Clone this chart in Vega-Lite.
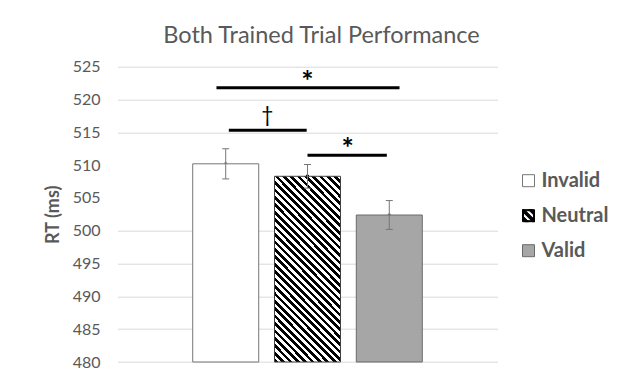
{
  "$schema": "https://vega.github.io/schema/vega-lite/v6.json",
  "width": 380,
  "height": 295.3,
  "autosize": "none",
  "padding": {"left": 117.5, "top": 66.7, "right": 131.5, "bottom": 22},
  "background": "#ffffff",
  "title": {"text": "Both Trained Trial Performance", "font": "Lato", "fontSize": 23.5, "fontWeight": "normal", "color": "#595959", "anchor": "middle", "frame": "group", "dx": 14, "offset": -8, "baseline": "alphabetic"},
  "datasets": {
    "bars": [
      {"condition": "Invalid", "pos": 1, "rt": 510.2, "lo": 507.9, "hi": 512.5},
      {"condition": "Neutral", "pos": 2, "rt": 508.3, "lo": 506.5, "hi": 510.1},
      {"condition": "Valid", "pos": 3, "rt": 502.4, "lo": 500.2, "hi": 504.6}
    ],
    "sig": [
      {"from": 0.887, "to": 3.125, "mid": 2.0, "y": 521.8, "label": "*"},
      {"from": 1.038, "to": 1.99, "mid": 1.51, "y": 515.3, "label": "†"},
      {"from": 2.0, "to": 2.97, "mid": 2.49, "y": 511.5, "label": "*"}
    ]
  },
  "layer": [
    {
      "data": {"name": "bars"},
      "mark": {"type": "point", "filled": true, "size": 4, "strokeWidth": 1, "opacity": 1},
      "encoding": {
        "x": {"field": "pos", "type": "quantitative", "scale": {"domain": [-0.262, 4.262], "nice": false, "zero": false}, "axis": null},
        "y": {"field": "rt", "type": "quantitative", "scale": {"domain": [480, 525], "nice": false, "zero": false},
          "axis": {"values": [480, 485, 490, 495, 500, 505, 510, 515, 520, 525], "title": "RT (ms)", "domain": false, "ticks": false,
            "labelFont": "Lato", "labelFontSize": 16, "labelColor": "#595959", "labelPadding": 17.5,
            "gridColor": {"condition": {"test": "datum.value === 505 || datum.value === 510", "value": "transparent"}, "value": "#d9d9d9"},
            "gridWidth": 1, "titleFont": "Lato", "titleFontSize": 18, "titleFontWeight": "bold", "titleColor": "#595959",
            "titleX": -64, "titleY": 147.6, "titleAngle": -90, "titleAlign": "center", "titleBaseline": "middle"}},
        "fill": {"field": "condition", "type": "nominal",
          "scale": {"domain": ["Invalid", "Neutral", "Valid"], "range": ["#ffffff", "#000000", "#a6a6a6"]},
          "legend": {"orient": "none", "legendX": 401, "legendY": 104, "title": null, "symbolSize": 144, "symbolOpacity": 1,
            "symbolStrokeWidth": 1, "labelFont": "Lato", "labelFontSize": 20, "labelFontWeight": "bold",
            "labelColor": "#595959", "labelOffset": 3, "rowPadding": 15, "padding": 0}},
        "stroke": {"field": "condition", "type": "nominal",
          "scale": {"domain": ["Invalid", "Neutral", "Valid"], "range": ["#767676", "#000000", "#6a6a6a"]},
          "legend": {"orient": "none", "legendX": 401, "legendY": 104, "title": null, "symbolSize": 144, "symbolOpacity": 1,
            "symbolStrokeWidth": 1, "labelFont": "Lato", "labelFontSize": 20, "labelFontWeight": "bold",
            "labelColor": "#595959", "labelOffset": 3, "rowPadding": 15, "padding": 0}},
        "shape": {"field": "condition", "type": "nominal",
          "scale": {"domain": ["Invalid", "Neutral", "Valid"], "range": ["square", "M-1,-1H1V1H-1Z M-0.83,-0.83V0.83H0.83V-0.83Z M-1,-1L-0.67,-1L1,0.67L1,1L0.67,1L-1,-0.67Z M-0.01,-1L0.65,-1L1,-0.65L1,0.01Z M-1,-0.01L0.01,1L-0.65,1L-1,0.65Z", "square"]},
          "legend": {"orient": "none", "legendX": 401, "legendY": 104, "title": null, "symbolSize": 144, "symbolOpacity": 1,
            "symbolStrokeWidth": 1, "labelFont": "Lato", "labelFontSize": 20, "labelFontWeight": "bold",
            "labelColor": "#595959", "labelOffset": 3, "rowPadding": 15, "padding": 0}}
      }
    },
    {
      "data": {"name": "bars"},
      "transform": [{"filter": "datum.condition === 'Invalid'"}],
      "mark": {"type": "bar", "width": 66, "fill": "#ffffff", "stroke": "#767676", "strokeWidth": 1},
      "encoding": {
        "x": {"field": "pos", "type": "quantitative", "scale": {"domain": [-0.262, 4.262], "nice": false, "zero": false}, "axis": null},
        "y": {"field": "rt", "type": "quantitative", "scale": {"domain": [480, 525], "nice": false, "zero": false},
          "axis": {"values": [480, 485, 490, 495, 500, 505, 510, 515, 520, 525], "title": "RT (ms)", "domain": false, "ticks": false,
            "labelFont": "Lato", "labelFontSize": 16, "labelColor": "#595959", "labelPadding": 17.5,
            "gridColor": {"condition": {"test": "datum.value === 505 || datum.value === 510", "value": "transparent"}, "value": "#d9d9d9"},
            "gridWidth": 1, "titleFont": "Lato", "titleFontSize": 18, "titleFontWeight": "bold", "titleColor": "#595959",
            "titleX": -64, "titleY": 147.6, "titleAngle": -90, "titleAlign": "center", "titleBaseline": "middle"}},
        "y2": {"datum": 480}
      }
    },
    {
      "data": {"name": "bars"},
      "transform": [{"filter": "datum.condition === 'Valid'"}],
      "mark": {"type": "bar", "width": 66, "fill": "#a6a6a6", "stroke": "#6a6a6a", "strokeWidth": 1},
      "encoding": {
        "x": {"field": "pos", "type": "quantitative", "scale": {"domain": [-0.262, 4.262], "nice": false, "zero": false}, "axis": null},
        "y": {"field": "rt", "type": "quantitative", "scale": {"domain": [480, 525], "nice": false, "zero": false},
          "axis": {"values": [480, 485, 490, 495, 500, 505, 510, 515, 520, 525], "title": "RT (ms)", "domain": false, "ticks": false,
            "labelFont": "Lato", "labelFontSize": 16, "labelColor": "#595959", "labelPadding": 17.5,
            "gridColor": {"condition": {"test": "datum.value === 505 || datum.value === 510", "value": "transparent"}, "value": "#d9d9d9"},
            "gridWidth": 1, "titleFont": "Lato", "titleFontSize": 18, "titleFontWeight": "bold", "titleColor": "#595959",
            "titleX": -64, "titleY": 147.6, "titleAngle": -90, "titleAlign": "center", "titleBaseline": "middle"}},
        "y2": {"datum": 480}
      }
    },
    {
      "data": {"name": "bars"},
      "transform": [{"filter": "datum.condition === 'Neutral'"}],
      "mark": {"type": "bar", "width": 66, "stroke": "#404040", "strokeWidth": 1,
        "fill": {"gradient": "linear", "x1": 0, "y1": 1, "x2": 0.432, "y2": -0.204, "stops": [
          {"offset": 0, "color": "#000000"}, {"offset": 0.01471, "color": "#000000"}, {"offset": 0.01471, "color": "#ffffff"}, {"offset": 0.02941, "color": "#ffffff"},
          {"offset": 0.02941, "color": "#000000"}, {"offset": 0.04412, "color": "#000000"}, {"offset": 0.04412, "color": "#ffffff"}, {"offset": 0.05882, "color": "#ffffff"},
          {"offset": 0.05882, "color": "#000000"}, {"offset": 0.07353, "color": "#000000"}, {"offset": 0.07353, "color": "#ffffff"}, {"offset": 0.08824, "color": "#ffffff"},
          {"offset": 0.08824, "color": "#000000"}, {"offset": 0.10294, "color": "#000000"}, {"offset": 0.10294, "color": "#ffffff"}, {"offset": 0.11765, "color": "#ffffff"},
          {"offset": 0.11765, "color": "#000000"}, {"offset": 0.13235, "color": "#000000"}, {"offset": 0.13235, "color": "#ffffff"}, {"offset": 0.14706, "color": "#ffffff"},
          {"offset": 0.14706, "color": "#000000"}, {"offset": 0.16176, "color": "#000000"}, {"offset": 0.16176, "color": "#ffffff"}, {"offset": 0.17647, "color": "#ffffff"},
          {"offset": 0.17647, "color": "#000000"}, {"offset": 0.19118, "color": "#000000"}, {"offset": 0.19118, "color": "#ffffff"}, {"offset": 0.20588, "color": "#ffffff"},
          {"offset": 0.20588, "color": "#000000"}, {"offset": 0.22059, "color": "#000000"}, {"offset": 0.22059, "color": "#ffffff"}, {"offset": 0.23529, "color": "#ffffff"},
          {"offset": 0.23529, "color": "#000000"}, {"offset": 0.25, "color": "#000000"}, {"offset": 0.25, "color": "#ffffff"}, {"offset": 0.26471, "color": "#ffffff"},
          {"offset": 0.26471, "color": "#000000"}, {"offset": 0.27941, "color": "#000000"}, {"offset": 0.27941, "color": "#ffffff"}, {"offset": 0.29412, "color": "#ffffff"},
          {"offset": 0.29412, "color": "#000000"}, {"offset": 0.30882, "color": "#000000"}, {"offset": 0.30882, "color": "#ffffff"}, {"offset": 0.32353, "color": "#ffffff"},
          {"offset": 0.32353, "color": "#000000"}, {"offset": 0.33824, "color": "#000000"}, {"offset": 0.33824, "color": "#ffffff"}, {"offset": 0.35294, "color": "#ffffff"},
          {"offset": 0.35294, "color": "#000000"}, {"offset": 0.36765, "color": "#000000"}, {"offset": 0.36765, "color": "#ffffff"}, {"offset": 0.38235, "color": "#ffffff"},
          {"offset": 0.38235, "color": "#000000"}, {"offset": 0.39706, "color": "#000000"}, {"offset": 0.39706, "color": "#ffffff"}, {"offset": 0.41176, "color": "#ffffff"},
          {"offset": 0.41176, "color": "#000000"}, {"offset": 0.42647, "color": "#000000"}, {"offset": 0.42647, "color": "#ffffff"}, {"offset": 0.44118, "color": "#ffffff"},
          {"offset": 0.44118, "color": "#000000"}, {"offset": 0.45588, "color": "#000000"}, {"offset": 0.45588, "color": "#ffffff"}, {"offset": 0.47059, "color": "#ffffff"},
          {"offset": 0.47059, "color": "#000000"}, {"offset": 0.48529, "color": "#000000"}, {"offset": 0.48529, "color": "#ffffff"}, {"offset": 0.5, "color": "#ffffff"},
          {"offset": 0.5, "color": "#000000"}, {"offset": 0.51471, "color": "#000000"}, {"offset": 0.51471, "color": "#ffffff"}, {"offset": 0.52941, "color": "#ffffff"},
          {"offset": 0.52941, "color": "#000000"}, {"offset": 0.54412, "color": "#000000"}, {"offset": 0.54412, "color": "#ffffff"}, {"offset": 0.55882, "color": "#ffffff"},
          {"offset": 0.55882, "color": "#000000"}, {"offset": 0.57353, "color": "#000000"}, {"offset": 0.57353, "color": "#ffffff"}, {"offset": 0.58824, "color": "#ffffff"},
          {"offset": 0.58824, "color": "#000000"}, {"offset": 0.60294, "color": "#000000"}, {"offset": 0.60294, "color": "#ffffff"}, {"offset": 0.61765, "color": "#ffffff"},
          {"offset": 0.61765, "color": "#000000"}, {"offset": 0.63235, "color": "#000000"}, {"offset": 0.63235, "color": "#ffffff"}, {"offset": 0.64706, "color": "#ffffff"},
          {"offset": 0.64706, "color": "#000000"}, {"offset": 0.66176, "color": "#000000"}, {"offset": 0.66176, "color": "#ffffff"}, {"offset": 0.67647, "color": "#ffffff"},
          {"offset": 0.67647, "color": "#000000"}, {"offset": 0.69118, "color": "#000000"}, {"offset": 0.69118, "color": "#ffffff"}, {"offset": 0.70588, "color": "#ffffff"},
          {"offset": 0.70588, "color": "#000000"}, {"offset": 0.72059, "color": "#000000"}, {"offset": 0.72059, "color": "#ffffff"}, {"offset": 0.73529, "color": "#ffffff"},
          {"offset": 0.73529, "color": "#000000"}, {"offset": 0.75, "color": "#000000"}, {"offset": 0.75, "color": "#ffffff"}, {"offset": 0.76471, "color": "#ffffff"},
          {"offset": 0.76471, "color": "#000000"}, {"offset": 0.77941, "color": "#000000"}, {"offset": 0.77941, "color": "#ffffff"}, {"offset": 0.79412, "color": "#ffffff"},
          {"offset": 0.79412, "color": "#000000"}, {"offset": 0.80882, "color": "#000000"}, {"offset": 0.80882, "color": "#ffffff"}, {"offset": 0.82353, "color": "#ffffff"},
          {"offset": 0.82353, "color": "#000000"}, {"offset": 0.83824, "color": "#000000"}, {"offset": 0.83824, "color": "#ffffff"}, {"offset": 0.85294, "color": "#ffffff"},
          {"offset": 0.85294, "color": "#000000"}, {"offset": 0.86765, "color": "#000000"}, {"offset": 0.86765, "color": "#ffffff"}, {"offset": 0.88235, "color": "#ffffff"},
          {"offset": 0.88235, "color": "#000000"}, {"offset": 0.89706, "color": "#000000"}, {"offset": 0.89706, "color": "#ffffff"}, {"offset": 0.91176, "color": "#ffffff"},
          {"offset": 0.91176, "color": "#000000"}, {"offset": 0.92647, "color": "#000000"}, {"offset": 0.92647, "color": "#ffffff"}, {"offset": 0.94118, "color": "#ffffff"},
          {"offset": 0.94118, "color": "#000000"}, {"offset": 0.95588, "color": "#000000"}, {"offset": 0.95588, "color": "#ffffff"}, {"offset": 0.97059, "color": "#ffffff"},
          {"offset": 0.97059, "color": "#000000"}, {"offset": 0.98529, "color": "#000000"}, {"offset": 0.98529, "color": "#ffffff"}, {"offset": 1, "color": "#ffffff"}]}},
      "encoding": {
        "x": {"field": "pos", "type": "quantitative", "scale": {"domain": [-0.262, 4.262], "nice": false, "zero": false}, "axis": null},
        "y": {"field": "rt", "type": "quantitative", "scale": {"domain": [480, 525], "nice": false, "zero": false},
          "axis": {"values": [480, 485, 490, 495, 500, 505, 510, 515, 520, 525], "title": "RT (ms)", "domain": false, "ticks": false,
            "labelFont": "Lato", "labelFontSize": 16, "labelColor": "#595959", "labelPadding": 17.5,
            "gridColor": {"condition": {"test": "datum.value === 505 || datum.value === 510", "value": "transparent"}, "value": "#d9d9d9"},
            "gridWidth": 1, "titleFont": "Lato", "titleFontSize": 18, "titleFontWeight": "bold", "titleColor": "#595959",
            "titleX": -64, "titleY": 147.6, "titleAngle": -90, "titleAlign": "center", "titleBaseline": "middle"}},
        "y2": {"datum": 480}
      }
    },
    {
      "data": {"name": "bars"},
      "mark": {"type": "rule", "color": "#767676", "strokeWidth": 1},
      "encoding": {
        "x": {"field": "pos", "type": "quantitative", "scale": {"domain": [-0.262, 4.262], "nice": false, "zero": false}, "axis": null},
        "y": {"field": "lo", "type": "quantitative", "scale": {"domain": [480, 525], "nice": false, "zero": false},
          "axis": {"values": [480, 485, 490, 495, 500, 505, 510, 515, 520, 525], "title": "RT (ms)", "domain": false, "ticks": false,
            "labelFont": "Lato", "labelFontSize": 16, "labelColor": "#595959", "labelPadding": 17.5,
            "gridColor": {"condition": {"test": "datum.value === 505 || datum.value === 510", "value": "transparent"}, "value": "#d9d9d9"},
            "gridWidth": 1, "titleFont": "Lato", "titleFontSize": 18, "titleFontWeight": "bold", "titleColor": "#595959",
            "titleX": -64, "titleY": 147.6, "titleAngle": -90, "titleAlign": "center", "titleBaseline": "middle"}},
        "y2": {"field": "hi"}
      }
    },
    {
      "data": {"name": "bars"},
      "mark": {"type": "tick", "orient": "horizontal", "size": 7, "thickness": 1, "color": "#767676", "opacity": 1},
      "encoding": {
        "x": {"field": "pos", "type": "quantitative", "scale": {"domain": [-0.262, 4.262], "nice": false, "zero": false}, "axis": null},
        "y": {"field": "lo", "type": "quantitative", "scale": {"domain": [480, 525], "nice": false, "zero": false},
          "axis": {"values": [480, 485, 490, 495, 500, 505, 510, 515, 520, 525], "title": "RT (ms)", "domain": false, "ticks": false,
            "labelFont": "Lato", "labelFontSize": 16, "labelColor": "#595959", "labelPadding": 17.5,
            "gridColor": {"condition": {"test": "datum.value === 505 || datum.value === 510", "value": "transparent"}, "value": "#d9d9d9"},
            "gridWidth": 1, "titleFont": "Lato", "titleFontSize": 18, "titleFontWeight": "bold", "titleColor": "#595959",
            "titleX": -64, "titleY": 147.6, "titleAngle": -90, "titleAlign": "center", "titleBaseline": "middle"}}
      }
    },
    {
      "data": {"name": "bars"},
      "mark": {"type": "tick", "orient": "horizontal", "size": 7, "thickness": 1, "color": "#767676", "opacity": 1},
      "encoding": {
        "x": {"field": "pos", "type": "quantitative", "scale": {"domain": [-0.262, 4.262], "nice": false, "zero": false}, "axis": null},
        "y": {"field": "hi", "type": "quantitative", "scale": {"domain": [480, 525], "nice": false, "zero": false},
          "axis": {"values": [480, 485, 490, 495, 500, 505, 510, 515, 520, 525], "title": "RT (ms)", "domain": false, "ticks": false,
            "labelFont": "Lato", "labelFontSize": 16, "labelColor": "#595959", "labelPadding": 17.5,
            "gridColor": {"condition": {"test": "datum.value === 505 || datum.value === 510", "value": "transparent"}, "value": "#d9d9d9"},
            "gridWidth": 1, "titleFont": "Lato", "titleFontSize": 18, "titleFontWeight": "bold", "titleColor": "#595959",
            "titleX": -64, "titleY": 147.6, "titleAngle": -90, "titleAlign": "center", "titleBaseline": "middle"}}
      }
    },
    {
      "data": {"name": "sig"},
      "mark": {"type": "rule", "color": "#000000", "strokeWidth": 3},
      "encoding": {
        "x": {"field": "from", "type": "quantitative", "scale": {"domain": [-0.262, 4.262], "nice": false, "zero": false}, "axis": null},
        "x2": {"field": "to"},
        "y": {"field": "y", "type": "quantitative", "scale": {"domain": [480, 525], "nice": false, "zero": false},
          "axis": {"values": [480, 485, 490, 495, 500, 505, 510, 515, 520, 525], "title": "RT (ms)", "domain": false, "ticks": false,
            "labelFont": "Lato", "labelFontSize": 16, "labelColor": "#595959", "labelPadding": 17.5,
            "gridColor": {"condition": {"test": "datum.value === 505 || datum.value === 510", "value": "transparent"}, "value": "#d9d9d9"},
            "gridWidth": 1, "titleFont": "Lato", "titleFontSize": 18, "titleFontWeight": "bold", "titleColor": "#595959",
            "titleX": -64, "titleY": 147.6, "titleAngle": -90, "titleAlign": "center", "titleBaseline": "middle"}}
      }
    },
    {
      "data": {"name": "sig"},
      "transform": [{"filter": "datum.label === '*'"}],
      "mark": {"type": "text", "font": "Lato", "fontWeight": "bold", "fontSize": 29, "color": "#000000", "align": "center", "baseline": "alphabetic", "dy": 3},
      "encoding": {
        "x": {"field": "mid", "type": "quantitative", "scale": {"domain": [-0.262, 4.262], "nice": false, "zero": false}, "axis": null},
        "y": {"field": "y", "type": "quantitative", "scale": {"domain": [480, 525], "nice": false, "zero": false},
          "axis": {"values": [480, 485, 490, 495, 500, 505, 510, 515, 520, 525], "title": "RT (ms)", "domain": false, "ticks": false,
            "labelFont": "Lato", "labelFontSize": 16, "labelColor": "#595959", "labelPadding": 17.5,
            "gridColor": {"condition": {"test": "datum.value === 505 || datum.value === 510", "value": "transparent"}, "value": "#d9d9d9"},
            "gridWidth": 1, "titleFont": "Lato", "titleFontSize": 18, "titleFontWeight": "bold", "titleColor": "#595959",
            "titleX": -64, "titleY": 147.6, "titleAngle": -90, "titleAlign": "center", "titleBaseline": "middle"}},
        "text": {"field": "label"}
      }
    },
    {
      "data": {"name": "sig"},
      "transform": [{"filter": "datum.label === '†'"}],
      "mark": {"type": "text", "font": "Lato", "fontWeight": "normal", "fontSize": 21, "color": "#000000", "align": "center", "baseline": "alphabetic", "dy": -8},
      "encoding": {
        "x": {"field": "mid", "type": "quantitative", "scale": {"domain": [-0.262, 4.262], "nice": false, "zero": false}, "axis": null},
        "y": {"field": "y", "type": "quantitative", "scale": {"domain": [480, 525], "nice": false, "zero": false},
          "axis": {"values": [480, 485, 490, 495, 500, 505, 510, 515, 520, 525], "title": "RT (ms)", "domain": false, "ticks": false,
            "labelFont": "Lato", "labelFontSize": 16, "labelColor": "#595959", "labelPadding": 17.5,
            "gridColor": {"condition": {"test": "datum.value === 505 || datum.value === 510", "value": "transparent"}, "value": "#d9d9d9"},
            "gridWidth": 1, "titleFont": "Lato", "titleFontSize": 18, "titleFontWeight": "bold", "titleColor": "#595959",
            "titleX": -64, "titleY": 147.6, "titleAngle": -90, "titleAlign": "center", "titleBaseline": "middle"}},
        "text": {"field": "label"}
      }
    }
  ],
  "config": {
    "view": {"stroke": null},
    "axisY": {"tickCount": 10, "labelPadding": 17.5, "labelFont": "Lato", "labelFontSize": 16, "labelColor": "#595959"}
  }
}
